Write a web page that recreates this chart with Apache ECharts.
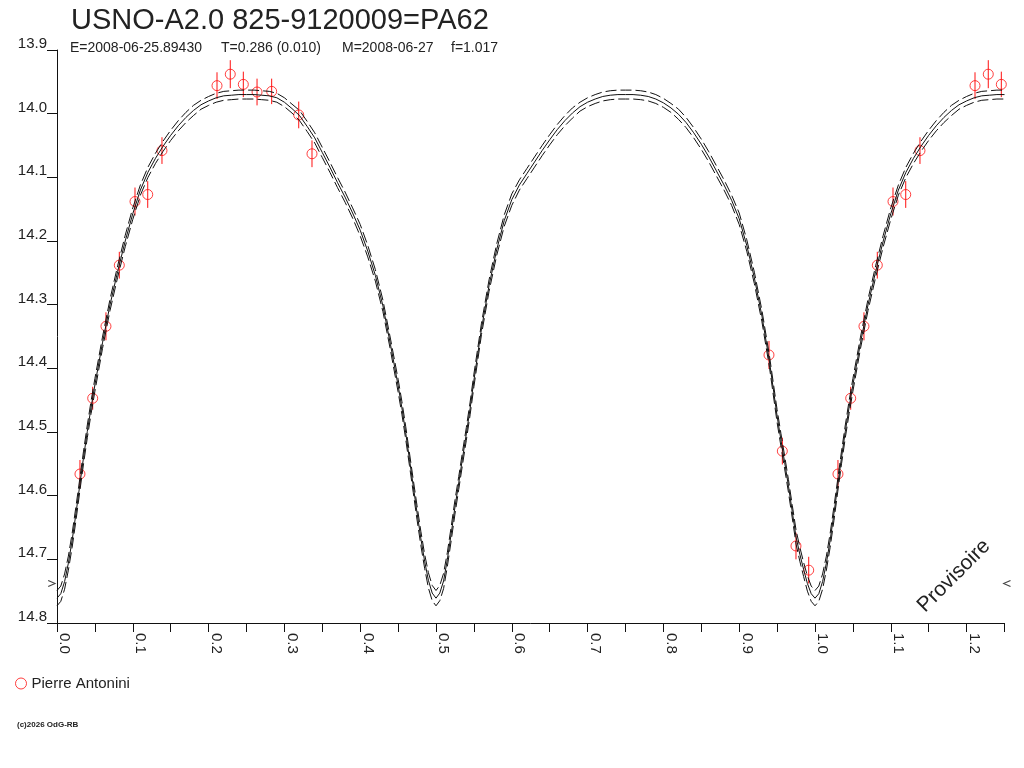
<!DOCTYPE html>
<html><head><meta charset="utf-8">
<script src="https://cdn.jsdelivr.net/npm/echarts@6/dist/echarts.min.js"></script>
<style>html,body{margin:0;padding:0;background:#fff}#c{width:1024px;height:768px}</style>
</head><body><div id="c"></div>
<script>
// ---------- text ----------
const titleText = 'USNO-A2.0 825-9120009=PA62';
const subTexts = ['E=2008-06-25.89430', 'T=0.286 (0.010)', 'M=2008-06-27', 'f=1.017'];
const observerName = 'Pierre Antonini';
const copyrightText = '(c)2026 OdG-RB';
const stampText = 'Provisoire';

// ---------- axes ----------
const xMin = 0, xMax = 1.25, xStep = 0.05;
const yMin = 13.9, yMax = 14.8, yStep = 0.1;

// ---------- observations (phase, magnitude, error) ----------
const obsPhase = [0.0303, 0.0471, 0.0646, 0.0822, 0.1029, 0.1197, 0.1385, 0.2111, 0.2286, 0.2458,
                  0.2639, 0.2832, 0.3189, 0.3364, 0.9393, 0.9569, 0.9749, 0.9917];
const obsMag   = [14.566, 14.447, 14.334, 14.238, 14.138, 14.127, 14.058, 13.956, 13.938, 13.954,
                  13.966, 13.965, 14.002, 14.063, 14.379, 14.530, 14.679, 14.717];
const obsErr   = [0.022, 0.018, 0.022, 0.021, 0.022, 0.021, 0.021, 0.021, 0.022, 0.020,
                  0.021, 0.020, 0.021, 0.021, 0.022, 0.021, 0.021, 0.021];

// ---------- fitted light curve (phase, magnitude, half-width of dashed band) ----------
const curvePhase = [
  0, 0.005, 0.01, 0.015, 0.02, 0.025, 0.03, 0.035, 0.04, 0.045, 0.05, 0.06, 0.07, 0.08, 0.09, 0.10,
  0.11, 0.12, 0.13, 0.14, 0.15, 0.16, 0.17, 0.18, 0.19, 0.20, 0.21, 0.22, 0.23, 0.24, 0.25,
  0.26, 0.27, 0.28, 0.29, 0.30, 0.31, 0.32, 0.33, 0.34, 0.35, 0.36, 0.37, 0.38, 0.39, 0.40,
  0.41, 0.42, 0.43, 0.44, 0.45, 0.455, 0.46, 0.465, 0.47, 0.475, 0.48, 0.485, 0.49, 0.495, 0.50,
  0.505, 0.51, 0.515, 0.52, 0.525, 0.53, 0.535, 0.54, 0.545, 0.55, 0.56, 0.57, 0.58, 0.59, 0.60,
  0.61, 0.62, 0.63, 0.64, 0.65, 0.66, 0.67, 0.68, 0.69, 0.70, 0.71, 0.72, 0.73, 0.74, 0.75,
  0.76, 0.77, 0.78, 0.79, 0.80, 0.81, 0.82, 0.83, 0.84, 0.85, 0.86, 0.87, 0.88, 0.89, 0.90,
  0.91, 0.92, 0.93, 0.94, 0.95, 0.955, 0.96, 0.965, 0.97, 0.975, 0.98, 0.985, 0.99, 0.995, 1.00,
  1.005, 1.01, 1.015, 1.02, 1.025, 1.03, 1.035, 1.04, 1.045, 1.05, 1.06, 1.07, 1.08, 1.09, 1.10,
  1.11, 1.12, 1.13, 1.14, 1.15, 1.16, 1.17, 1.18, 1.19, 1.20, 1.21, 1.22, 1.23, 1.24, 1.25
];
const curveMag = [
  14.761, 14.754, 14.735, 14.706, 14.670, 14.628, 14.584, 14.540, 14.499, 14.461, 14.426, 14.360, 14.300, 14.248, 14.200, 14.157,
  14.120, 14.092, 14.070, 14.051, 14.034, 14.019, 14.006, 13.995, 13.986, 13.980, 13.975, 13.972, 13.971, 13.970, 13.970,
  13.970, 13.971, 13.972, 13.975, 13.982, 13.992, 14.003, 14.020, 14.038, 14.061, 14.084, 14.108, 14.131, 14.156, 14.183,
  14.216, 14.254, 14.302, 14.363, 14.427, 14.462, 14.501, 14.543, 14.585, 14.627, 14.667, 14.703, 14.733, 14.753, 14.761,
  14.753, 14.734, 14.700, 14.660, 14.618, 14.580, 14.541, 14.503, 14.463, 14.419, 14.338, 14.270, 14.214, 14.168, 14.135,
  14.112, 14.094, 14.076, 14.058, 14.041, 14.025, 14.011, 13.999, 13.989, 13.982, 13.977, 13.973, 13.971, 13.970, 13.970,
  13.970, 13.971, 13.973, 13.977, 13.983, 13.991, 14.001, 14.014, 14.030, 14.048, 14.068, 14.090, 14.112, 14.136, 14.165,
  14.207, 14.258, 14.318, 14.390, 14.475, 14.512, 14.548, 14.585, 14.625, 14.665, 14.692, 14.716, 14.738, 14.754, 14.761,
  14.754, 14.735, 14.706, 14.670, 14.628, 14.584, 14.540, 14.499, 14.461, 14.426, 14.360, 14.300, 14.248, 14.200, 14.157,
  14.120, 14.092, 14.070, 14.051, 14.034, 14.019, 14.006, 13.995, 13.986, 13.980, 13.975, 13.972, 13.971, 13.970, 13.970
];
const curveBand = [
  0.012, 0.012, 0.012, 0.011, 0.011, 0.011, 0.010, 0.010, 0.010, 0.010, 0.010, 0.009, 0.009, 0.009, 0.009, 0.009,
  0.008, 0.008, 0.008, 0.008, 0.008, 0.008, 0.008, 0.008, 0.007, 0.007, 0.007, 0.007, 0.007, 0.007, 0.007,
  0.007, 0.007, 0.007, 0.007, 0.007, 0.007, 0.008, 0.008, 0.008, 0.008, 0.008, 0.008, 0.008, 0.008, 0.009,
  0.009, 0.009, 0.009, 0.009, 0.010, 0.010, 0.010, 0.010, 0.010, 0.011, 0.011, 0.011, 0.012, 0.012, 0.012,
  0.012, 0.012, 0.011, 0.011, 0.011, 0.010, 0.010, 0.010, 0.010, 0.010, 0.009, 0.009, 0.009, 0.009, 0.009,
  0.008, 0.008, 0.008, 0.008, 0.008, 0.008, 0.008, 0.008, 0.007, 0.007, 0.007, 0.007, 0.007, 0.007, 0.007,
  0.007, 0.007, 0.007, 0.007, 0.007, 0.007, 0.008, 0.008, 0.008, 0.008, 0.008, 0.008, 0.008, 0.008, 0.009,
  0.009, 0.009, 0.009, 0.009, 0.010, 0.010, 0.010, 0.010, 0.010, 0.011, 0.011, 0.011, 0.012, 0.012, 0.012,
  0.012, 0.012, 0.011, 0.011, 0.011, 0.010, 0.010, 0.010, 0.010, 0.010, 0.009, 0.009, 0.009, 0.009, 0.009,
  0.008, 0.008, 0.008, 0.008, 0.008, 0.008, 0.008, 0.008, 0.007, 0.007, 0.007, 0.007, 0.007, 0.007, 0.007
];

// ---------- side markers ----------
const markerMag = 14.738;
const markerPhase = [-0.007, 1.2533];

// ---------- build ----------
const FONT = '"Liberation Sans", Arial, Helvetica, sans-serif';
const INK = '#111';
const RED = '#ff1010';

const obsData = [];
obsPhase.forEach((p, i) => {
  obsData.push([p, obsMag[i], obsErr[i]]);
  if (p + 1 <= xMax) obsData.push([p + 1, obsMag[i], obsErr[i]]);
});
const midData = curvePhase.map((p, i) => [p, curveMag[i]]);
const upData = curvePhase.map((p, i) => [p, +(curveMag[i] - curveBand[i]).toFixed(4)]);
const loData = curvePhase.map((p, i) => [p, +(curveMag[i] + curveBand[i]).toFixed(4)]);

const chart = echarts.init(document.getElementById('c'), null, { renderer: 'canvas' });
chart.setOption({
  animation: false,
  backgroundColor: '#fff',
  grid: { left: 57, top: 50, right: 19.5, bottom: 145, containLabel: false },
  xAxis: {
    type: 'value', min: xMin, max: xMax, interval: xStep, position: 'bottom',
    axisLine: { show: true, onZero: false, lineStyle: { color: INK, width: 1 } },
    axisTick: { show: true, inside: false, length: 9, lineStyle: { color: INK, width: 1 } },
    axisLabel: {
      show: true, rotate: -90, margin: 10, align: 'left', verticalAlign: 'bottom',
      fontFamily: FONT, fontSize: 15, color: '#222',
      formatter: v => (Math.abs(v * 10 - Math.round(v * 10)) < 1e-6 ? v.toFixed(1) : '')
    },
    splitLine: { show: false }, minorTick: { show: false }
  },
  yAxis: {
    type: 'value', inverse: true, min: yMin, max: yMax, interval: yStep,
    axisLine: { show: true, lineStyle: { color: INK, width: 1 } },
    axisTick: { show: true, inside: false, length: 10, lineStyle: { color: INK, width: 1 } },
    axisLabel: {
      show: true, margin: 10, verticalAlign: 'bottom', lineHeight: 12,
      fontFamily: FONT, fontSize: 15, color: '#222',
      formatter: v => v.toFixed(1)
    },
    splitLine: { show: false }
  },
  legend: {
    data: [observerName], left: 15, top: 676, padding: 0, itemWidth: 11, itemHeight: 11, itemGap: 10,
    itemStyle: { color: 'rgba(255,255,255,0)', borderColor: RED, borderWidth: 1 },
    textStyle: { fontFamily: FONT, fontSize: 15, color: '#222' }, selectedMode: false
  },
  graphic: [
    { type: 'text', left: 71, top: 6, style: { text: titleText, font: '29px ' + FONT, fill: '#222' } },
    { type: 'text', left: 70, top: 41, style: { text: subTexts[0], font: '14px ' + FONT, fill: '#222' } },
    { type: 'text', left: 221, top: 41, style: { text: subTexts[1], font: '14px ' + FONT, fill: '#222' } },
    { type: 'text', left: 342, top: 41, style: { text: subTexts[2], font: '14px ' + FONT, fill: '#222' } },
    { type: 'text', left: 451, top: 41, style: { text: subTexts[3], font: '14px ' + FONT, fill: '#222' } },
    { type: 'text', left: 17, top: 721, style: { text: copyrightText, font: 'bold 8px ' + FONT, fill: '#222' } },
    { type: 'text', x: 954, y: 576, rotation: Math.PI / 4,
      style: { text: stampText, font: '21px ' + FONT, fill: '#222', align: 'center', verticalAlign: 'middle' } }
  ],
  series: [
    {
      name: 'errorbars', type: 'custom', z: 2, silent: true,
      data: obsData,
      renderItem: (params, api) => {
        const x = api.value(0), m = api.value(1), e = api.value(2);
        const a = api.coord([x, m - e]), b = api.coord([x, m + e]);
        return { type: 'line', shape: { x1: a[0], y1: a[1], x2: b[0], y2: b[1] },
                 style: { stroke: RED, lineWidth: 1 } };
      }
    },
    {
      name: observerName, type: 'scatter', z: 3, symbol: 'circle', symbolSize: 10,
      data: obsData.map(d => [d[0], d[1]]),
      itemStyle: { color: 'rgba(255,255,255,0)', borderColor: RED, borderWidth: 1 }
    },
    {
      name: 'fit', type: 'line', z: 4, data: midData, showSymbol: false, smooth: false,
      lineStyle: { color: INK, width: 1 }, silent: true
    },
    {
      name: 'fit+', type: 'line', z: 4, data: upData, showSymbol: false, smooth: false,
      lineStyle: { color: INK, width: 1, type: [11, 4] }, silent: true
    },
    {
      name: 'fit-', type: 'line', z: 4, data: loData, showSymbol: false, smooth: false,
      lineStyle: { color: INK, width: 1, type: [11, 4] }, silent: true
    },
    {
      name: 'markers', type: 'scatter', z: 4, clip: false, silent: true,
      symbolSize: [7, 6],
      itemStyle: { color: 'none', borderColor: INK, borderWidth: 1 },
      data: [
        { value: [markerPhase[0], markerMag], symbol: 'path://M0,0L7,3L0,6' },
        { value: [markerPhase[1], markerMag], symbol: 'path://M7,0L0,3L7,6' }
      ]
    }
  ]
});
</script></body></html>
